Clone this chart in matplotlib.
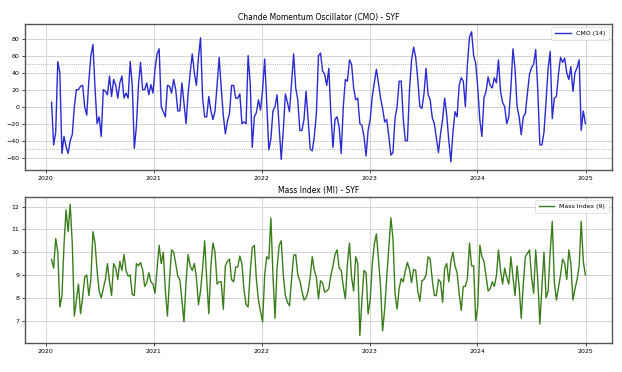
import numpy as np
import pandas as pd
import matplotlib
matplotlib.use('Agg')
import matplotlib.pyplot as plt
import matplotlib.dates as mdates

# weekly readings taken off the chart, 2020-01-21 .. 2024-12-31
dates = pd.date_range('2020-01-21', '2024-12-31', freq='7D')

cmo = [5, -45, -30, 53, 40, -55, -35, -47, -55, -40,
       -33, 0, 20, 20, 24, 25, 0, -10, 30, 60,
       73, 22, -20, -12, -35, 20, 18, 14, 36, 12,
       32, 25, 10, 28, 36, 10, 16, 10, 53, 25,
       -49, -23, 25, 52, 20, 20, 28, 14, 26, 16,
       44, 62, 68, 0, -6, -12, 25, 24, 16, 32,
       20, -5, -5,
       28, 4, -20, 15, 40, 62, 40, 25, 58, 81,
       10, -12, -12, 12, -5, -15, -5, 25, 58, 22,
       -10, -32, -17, -8, 25, 25, 10, 10, 15, -20,
       -18, -20, 60, 28, -48, -12, -7, 8, -4, 20,
       56, 5, -51, -38, -5, 0, 14, -25, -62, -28,
       15, 5, -6, 28, 62, 22, 8, -28, -28, -15,
       18, -15, -50, -52, -35, -8,
       60, 63, 42, 38, 25, 45, -8, -48, -15, -12,
       -24, -55, 0, 32, 30, 55, 50, 22, 8, 10,
       -20, -22, -35, -58, -28, -15, 12, 28, 44, 28,
       10, -2, -18, -15, -35, -57, -54, -14, 0, 30,
       30, -15, -40, -40, 20, 55, 70, 58, 32, 0,
       -2, 15, 45, 14, 8, -13, -20, -37, -54, -32,
       -15, 10, -10, -40, -65, -30, -6,
       -12, 25, 34, 30, 0, 50, 82, 88, 60, 51,
       22, -16, -35, 10, 18, 35, 25, 22, 34, 28,
       55, 18, 5, 0, -20, -12, 22, 68, 45, 0,
       -12, -33, -12, -8, 16, 38, 46, 50, 67, 20,
       -45, -45, -30, 6, 45, 65, -14, 10, 12, 38,
       58, 52, 57, 40, 32, 47, 18, 40, 46, 55,
       -28, -5, -20]

mass_index = [9.68, 9.3, 10.6, 10.0, 7.6, 8.07, 10.3, 11.85, 10.9, 12.1,
              10.4, 7.2, 7.9, 8.6, 7.3, 8.0, 8.9, 9.0, 8.1, 8.8,
              10.9, 10.4, 9.2, 8.3, 8.0, 8.4, 8.8, 9.5, 8.7, 8.1,
              9.5, 9.3, 8.8, 9.6, 9.2, 9.9, 9.2, 8.95, 9.0, 8.15,
              8.1, 9.5, 9.4, 9.55, 9.24, 8.5, 8.66, 9.1, 8.7, 8.6,
              8.2, 9.3, 10.3, 9.5, 10.0, 8.3, 7.2, 8.8, 10.1, 10.0,
              9.5, 8.95, 8.8,
              7.9, 6.95, 8.7, 9.9, 9.4, 9.2, 9.5, 8.9, 7.7, 8.3,
              9.3, 10.5, 8.8, 7.3, 9.4, 10.4, 10.0, 8.6, 8.7, 8.7,
              7.5, 9.4, 9.6, 9.7, 8.8, 8.7, 9.35, 9.35, 9.83, 9.5,
              8.35, 7.7, 7.6, 9.1, 10.2, 10.3, 8.8, 7.9, 7.4, 6.95,
              9.0, 9.8, 9.7, 11.5, 9.0, 7.1, 9.3, 10.3, 10.5, 9.0,
              8.1, 7.8, 7.65, 8.8, 9.85, 9.9, 9.0, 8.75, 8.3, 7.9,
              8.0, 8.3, 8.9, 9.8, 9.2, 8.9,
              7.95, 8.75, 8.65, 8.25, 8.3, 8.4, 9.0, 9.4, 9.9, 10.1,
              9.3, 9.2, 8.5, 7.95, 9.5, 10.4, 8.9, 8.3, 9.8, 9.5,
              6.35, 7.9, 9.2, 9.1, 7.3, 7.9, 9.5, 10.35, 10.8, 9.7,
              8.5, 6.55, 7.5, 8.9, 10.2, 11.5, 10.6, 8.2, 7.5, 8.4,
              8.85, 8.7, 9.2, 9.55, 9.24, 8.66, 9.25, 9.2, 8.3, 7.85,
              8.75, 8.8, 9.0, 9.8, 9.7, 8.8, 8.1, 8.1, 8.8, 8.7,
              7.8, 9.3, 9.5, 8.7, 9.6, 10.0, 9.4,
              9.1, 8.2, 7.45, 8.5, 8.5, 8.85, 10.4, 9.4, 9.4, 7.0,
              7.6, 10.3, 9.8, 9.6, 8.95, 8.3, 8.4, 8.7, 8.5, 8.95,
              10.1, 9.2, 8.6, 9.3, 8.9, 8.6, 9.8, 8.9, 8.1, 9.4,
              8.5, 7.1, 8.6, 9.8, 9.95, 10.1, 8.9, 8.2, 10.1, 8.8,
              6.85, 8.5, 10.0, 8.0, 8.3, 10.0, 11.35, 8.7, 7.9, 8.45,
              9.0, 9.7, 9.5, 8.8, 10.1, 9.5, 7.9, 8.4, 8.8, 9.4,
              11.35, 9.6, 9.0]

cmo_levels = [50, -50]

fig, (ax1, ax2) = plt.subplots(2, 1, figsize=(6.22, 3.72), dpi=100)
fig.subplots_adjust(left=0.040, right=0.984, top=0.935, bottom=0.078, hspace=0.18)

ax1.plot(dates, cmo, color='#2a2ad2', linewidth=1.0, label='CMO (14)')
for lvl in cmo_levels:
    ax1.axhline(lvl, color='gray', linestyle=':', linewidth=0.6, alpha=0.8)
ax1.set_title('Chande Momentum Oscillator (CMO) - SYF', fontsize=5.5, pad=3)
ax1.set_ylim(-75, 97)
ax1.set_yticks(np.arange(-60, 81, 20))

ax2.plot(dates, mass_index, color='#3b7d1c', linewidth=1.0, label='Mass Index (9)')
ax2.set_title('Mass Index (MI) - SYF', fontsize=5.5, pad=3)
ax2.set_ylim(6.02, 12.43)
ax2.set_yticks(np.arange(7, 13, 1))

for ax in (ax1, ax2):
    ax.grid(True, color='#d4d4d4', linewidth=0.7)
    ax.set_axisbelow(True)
    ax.xaxis.set_major_locator(mdates.YearLocator())
    ax.xaxis.set_major_formatter(mdates.DateFormatter('%Y'))
    ax.tick_params(labelsize=4.5, length=2, width=0.5, pad=2)
    for s in ax.spines.values():
        s.set_color('#555555')
        s.set_linewidth(1.0)
    leg = ax.legend(loc='upper right', fontsize=4.5, handlelength=2.5, borderpad=0.6)
    leg.get_frame().set_linewidth(0.5)

fig.savefig('out.png', dpi=100)
